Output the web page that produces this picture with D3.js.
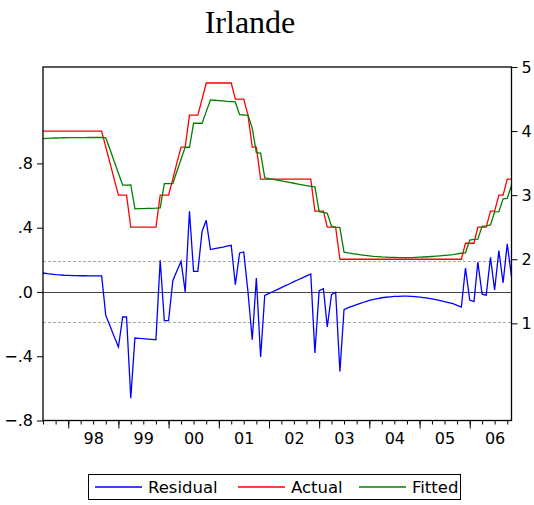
<!DOCTYPE html>
<html>
<head>
<meta charset="utf-8">
<script src="https://d3js.org/d3.v7.min.js"></script>
<style>
  body { margin: 0; background: #fff; }
  svg { display: block; }
  .axis text { font-family: "DejaVu Sans", sans-serif; font-size: 16px; fill: #000; }
  .axis path, .axis line { stroke: #000; }
  .title { font-family: "Liberation Serif", "Times New Roman", serif; font-size: 32px; }
  .legend text { font-family: "DejaVu Sans", sans-serif; font-size: 16.5px; }
</style>
</head>
<body>
<div id="chart"></div>
<script>
// monthly observations, 1997M07 .. 2006M11
var startMonth = new Date(1997, 6, 1);

var actual = [
  4.0, 4.0, 4.0, 4.0, 4.0, 4.0, 4.0, 4.0, 4.0, 4.0, 4.0, 4.0, 4.0, 4.0, 4.0,
  3.75, 3.5, 3.25, 3.0, 3.0, 3.0,
  2.5, 2.5, 2.5, 2.5, 2.5, 2.5, 2.5,
  3.0, 3.0, 3.0, 3.25, 3.5, 3.75, 3.75,
  4.25, 4.25, 4.25, 4.5, 4.75, 4.75, 4.75, 4.75, 4.75, 4.75, 4.75,
  4.5, 4.5, 4.5, 4.25, 3.75, 3.75,
  3.25, 3.25, 3.25, 3.25, 3.25, 3.25, 3.25, 3.25, 3.25, 3.25, 3.25, 3.25, 3.25,
  2.75, 2.75, 2.75, 2.5, 2.5, 2.5,
  2.0, 2.0, 2.0, 2.0, 2.0, 2.0, 2.0, 2.0, 2.0, 2.0, 2.0, 2.0, 2.0, 2.0, 2.0,
  2.0, 2.0, 2.0, 2.0, 2.0, 2.0, 2.0, 2.0, 2.0, 2.0, 2.0, 2.0, 2.0, 2.0, 2.0,
  2.25, 2.25, 2.25, 2.5, 2.5, 2.5, 2.75, 2.75, 3.0, 3.0, 3.25, 3.25
];

var fitted = [
  3.882, 3.886, 3.889, 3.892, 3.894, 3.896, 3.897, 3.898, 3.898, 3.899, 3.899, 3.900, 3.900, 3.900, 3.900,
  3.896, 3.712, 3.528, 3.343, 3.156, 3.156,
  3.161, 2.787, 2.789, 2.791, 2.793, 2.795, 2.797,
  2.803, 3.179, 3.179, 3.180, 3.370, 3.560, 3.750,
  3.748, 4.122, 4.122, 4.122, 4.304, 4.486, 4.481, 4.476, 4.471, 4.465, 4.460,
  4.455, 4.257, 4.251, 4.250, 4.047, 3.663,
  3.655, 3.271, 3.259, 3.247, 3.235, 3.223, 3.211, 3.199, 3.186, 3.174, 3.162, 3.150, 3.138,
  3.130, 2.742, 2.730, 2.718, 2.517, 2.502,
  2.495, 2.110, 2.098, 2.088, 2.079, 2.070, 2.061, 2.053, 2.046, 2.041, 2.036, 2.033, 2.030, 2.028, 2.027,
  2.026, 2.026, 2.027, 2.029, 2.032, 2.035, 2.039, 2.043, 2.048, 2.054, 2.060, 2.066, 2.073, 2.083, 2.094,
  2.101, 2.300, 2.310, 2.314, 2.514, 2.520, 2.535, 2.738, 2.743, 2.943, 2.950, 3.155
];

var residual = [
  0.118, 0.114, 0.111, 0.108, 0.106, 0.104, 0.103, 0.102, 0.102, 0.101, 0.101, 0.100, 0.100, 0.100, 0.100,
  -0.146, -0.212, -0.278, -0.343, -0.156, -0.156,
  -0.661, -0.287, -0.289, -0.291, -0.293, -0.295, -0.297,
  0.197, -0.179, -0.179, 0.070, 0.130, 0.190, 0.000,
  0.502, 0.128, 0.128, 0.378, 0.446, 0.264, 0.269, 0.274, 0.279, 0.285, 0.290,
  0.045, 0.243, 0.249, 0.000, -0.297, 0.087,
  -0.405, -0.021, -0.009, 0.003, 0.015, 0.027, 0.039, 0.051, 0.064, 0.076, 0.088, 0.100, 0.112,
  -0.380, 0.008, 0.020, -0.218, -0.017, -0.002,
  -0.495, -0.110, -0.098, -0.088, -0.079, -0.070, -0.061, -0.053, -0.046, -0.041, -0.036, -0.033, -0.030, -0.028, -0.027,
  -0.026, -0.026, -0.027, -0.029, -0.032, -0.035, -0.039, -0.043, -0.048, -0.054, -0.060, -0.066, -0.073, -0.083, -0.094,
  0.149, -0.050, -0.060, 0.186, -0.014, -0.020, 0.215, 0.012, 0.257, 0.057, 0.300, 0.095
];

var leftTicks = [-0.8, -0.4, 0, 0.4, 0.8];
var rightTicks = [1, 2, 3, 4, 5];
var yearLabels = [1998, 1999, 2000, 2001, 2002, 2003, 2004, 2005, 2006];
var seStd = 0.19;   // +/- 1 S.E. band on the residual
var legendItems = [
  {name: "Residual", color: "#0000ff"},
  {name: "Actual", color: "#ff0000"},
  {name: "Fitted", color: "#008000"}
];

var W = 534, H = 505;
var plot = {left: 43, right: 511.5, top: 67, bottom: 420.5};

var dates = actual.map(function(d, i) { return d3.timeMonth.offset(startMonth, i); });

var x = d3.scaleTime()
  .domain([dates[0], dates[dates.length - 1]])
  .range([plot.left, plot.right]);
var yL = d3.scaleLinear().domain([-0.8, 1.4]).range([plot.bottom, plot.top]);
var yR = d3.scaleLinear().domain([-0.516, 5]).range([plot.bottom, plot.top]);

var svg = d3.select("#chart").append("svg")
  .attr("width", W).attr("height", H);

svg.append("text").attr("class", "title")
  .attr("x", 250).attr("y", 33)
  .attr("text-anchor", "middle")
  .text("Irlande");

// reference lines for residual
var pw = plot.right - plot.left;
svg.append("line")
  .attr("x1", plot.left).attr("x2", plot.right)
  .attr("y1", Math.round(yL(0)) + 0.5).attr("y2", Math.round(yL(0)) + 0.5)
  .attr("stroke", "#444").attr("stroke-width", 1.2);
[seStd, -seStd].forEach(function(v) {
  svg.append("line")
    .attr("x1", plot.left).attr("x2", plot.right)
    .attr("y1", Math.round(yL(v)) + 0.5).attr("y2", Math.round(yL(v)) + 0.5)
    .attr("stroke", "#aaa").attr("stroke-dasharray", "3,2");
});

var lineR = d3.line().x(function(d, i) { return x(dates[i]); }).y(function(d) { return yR(d); });
var lineL = d3.line().x(function(d, i) { return x(dates[i]); }).y(function(d) { return yL(d); });

svg.append("path").datum(actual)
  .attr("d", lineR).attr("fill", "none").attr("stroke", "#ff0000").attr("stroke-width", 1.3);
svg.append("path").datum(fitted)
  .attr("d", lineR).attr("fill", "none").attr("stroke", "#008000").attr("stroke-width", 1.3);
svg.append("path").datum(residual)
  .attr("d", lineL).attr("fill", "none").attr("stroke", "#0000ff").attr("stroke-width", 1.3);

// frame
svg.append("rect")
  .attr("x", plot.left).attr("y", plot.top)
  .attr("width", pw).attr("height", plot.bottom - plot.top)
  .attr("fill", "none").attr("stroke", "#000").attr("stroke-width", 1.3);

var fmtL = function(d) {
  if (d === 0) return ".0";
  return d3.format(".1f")(d).replace("0.", ".");
};

svg.append("g").attr("class", "axis")
  .attr("transform", "translate(" + plot.left + ",0)")
  .call(d3.axisLeft(yL).tickValues(leftTicks).tickSize(6).tickPadding(4).tickFormat(fmtL))
  .call(function(g) { g.select(".domain").remove(); });

svg.append("g").attr("class", "axis")
  .attr("transform", "translate(" + plot.right + ",0)")
  .call(d3.axisRight(yR).tickValues(rightTicks).tickSize(6).tickPadding(4).tickFormat(d3.format("d")))
  .call(function(g) { g.select(".domain").remove(); });

// x axis: quarterly minor ticks, yearly major ticks, labels mid-year
var quarters = d3.timeMonth.every(3).range(d3.timeMonth.offset(startMonth, 0), d3.timeMonth.offset(dates[dates.length - 1], 1));
var years = yearLabels.map(function(y) { return new Date(y, 0, 1); });
var mids = yearLabels.map(function(y) { return new Date(y, 6, 1); });

svg.append("g").attr("class", "axis")
  .attr("transform", "translate(0," + plot.bottom + ")")
  .call(d3.axisBottom(x).tickValues(quarters).tickSize(4).tickFormat(""))
  .call(function(g) { g.select(".domain").remove(); });
svg.append("g").attr("class", "axis")
  .attr("transform", "translate(0," + plot.bottom + ")")
  .call(d3.axisBottom(x).tickValues(years).tickSize(8).tickFormat(""))
  .call(function(g) { g.select(".domain").remove(); });
svg.append("g").attr("class", "axis")
  .attr("transform", "translate(0," + plot.bottom + ")")
  .call(d3.axisBottom(x).tickValues(mids).tickSize(0).tickPadding(12).tickFormat(d3.timeFormat("%y")))
  .call(function(g) { g.select(".domain").remove(); });

// legend
var lg = svg.append("g").attr("class", "legend");
lg.append("rect")
  .attr("x", 88.5).attr("y", 474.5).attr("width", 372).attr("height", 25)
  .attr("fill", "#fff").attr("stroke", "#000").attr("stroke-width", 1);
var legX = [95, 238, 359];
legendItems.forEach(function(it, i) {
  var g = lg.append("g").attr("transform", "translate(" + legX[i] + ",487)");
  g.append("line").attr("x1", 0).attr("x2", 47).attr("y1", 0).attr("y2", 0)
    .style("stroke", it.color).attr("stroke-width", 1.4);
  g.append("text").attr("x", 53).attr("y", 6).text(it.name);
});
</script>
</body>
</html>
